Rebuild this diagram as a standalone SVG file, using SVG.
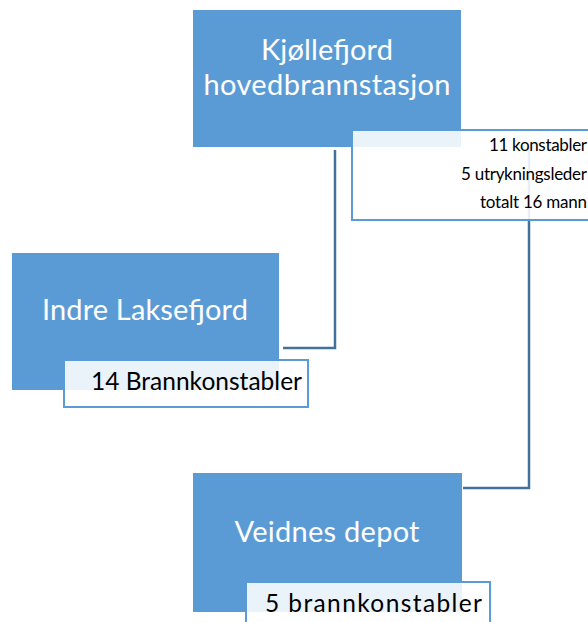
<svg xmlns="http://www.w3.org/2000/svg" width="588" height="622" viewBox="0 0 588 622">
<style>
.box{fill:#5B9BD5}
.note{fill:#ffffff;fill-opacity:0.88;stroke:#5B9BD5;stroke-width:2}
.main{font-family:Lato,"Liberation Sans",sans-serif;font-size:29px;fill:#ffffff;text-anchor:middle}
.sub{font-family:Lato,"Liberation Sans",sans-serif;fill:#000000;text-anchor:end}
.conn{fill:none;stroke:#41719C;stroke-width:2.5}
</style>
<rect width="588" height="622" fill="#ffffff"/>
<g id="connectors">
<path class="conn" d="M335,150 V348 H283"/>
<path class="conn" d="M529,147 V488 H463"/>
</g>
<g id="kjollefjord">
<rect class="box" x="193" y="10" width="268" height="137"/>
<text class="main" x="327" y="60" textLength="132">Kjøllefjord</text>
<text class="main" x="327" y="95" textLength="247">hovedbrannstasjon</text>
<rect class="note" x="352" y="130" width="250" height="90"/>
<text class="sub" x="587" y="151" font-size="17" textLength="98">11 konstabler</text>
<text class="sub" x="587" y="180" font-size="17" textLength="126">5 utrykningsleder</text>
<text class="sub" x="587" y="208" font-size="17" textLength="107">totalt 16 mann</text>
</g>
<g id="indre-laksefjord">
<rect class="box" x="12" y="253" width="267" height="137"/>
<text class="main" x="145" y="320" textLength="206">Indre Laksefjord</text>
<rect class="note" x="64" y="360" width="244" height="47"/>
<text class="sub" x="302" y="390" font-size="24.5" textLength="211">14 Brannkonstabler</text>
</g>
<g id="veidnes">
<rect class="box" x="193" y="473" width="269" height="139"/>
<text class="main" x="327" y="542" textLength="185">Veidnes depot</text>
<rect class="note" x="246" y="582" width="244" height="50"/>
<text class="sub" x="482" y="612" font-size="24.5" textLength="217">5 brannkonstabler</text>
</g>
</svg>
